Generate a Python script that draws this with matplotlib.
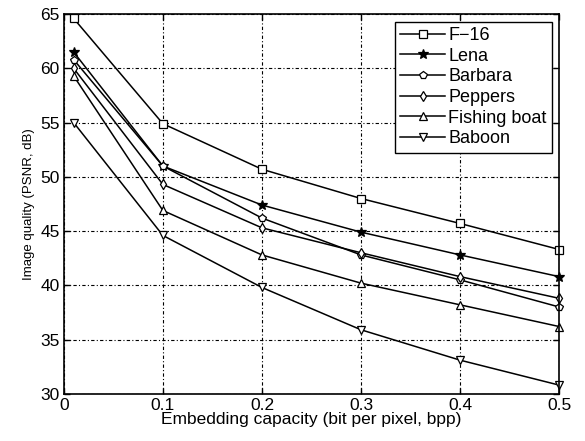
import numpy as np
import matplotlib
matplotlib.use("Agg")
import matplotlib.pyplot as plt

plt.rcParams['font.family'] = ['Liberation Sans', 'DejaVu Sans']

# Capacidad de inserción (bpp)
capacidad = [0.01, 0.1, 0.2, 0.3, 0.4, 0.5]

# PSNR (dB) por imagen
f16 = [64.6, 54.9, 50.7, 48.0, 45.7, 43.3]
lena = [61.5, 51.0, 47.4, 44.9, 42.8, 40.8]
barbara = [60.8, 51.0, 46.2, 42.8, 40.5, 38.0]
peppers = [60.0, 49.3, 45.3, 43.0, 40.8, 38.8]
fishing = [59.3, 46.9, 42.8, 40.2, 38.2, 36.2]
baboon = [55.0, 44.6, 39.8, 35.9, 33.1, 30.8]

nombres = ['F\u221216', 'Lena', 'Barbara', 'Peppers', 'Fishing boat', 'Baboon']
series = [f16, lena, barbara, peppers, fishing, baboon]
marcadores = ['s', '*', 'p', 'd', '^', 'v']

fig = plt.figure(figsize=(5.85, 4.41), dpi=100)
ax = fig.add_axes([0.109, 0.107, 0.847, 0.861])

for nombre, datos, m in zip(nombres, series, marcadores):
    relleno = 'k' if m == '*' else 'white'
    ax.plot(capacidad, datos, color='k', linewidth=1.1, marker=m,
            markersize=5.5 if m != '*' else 7.5, markerfacecolor=relleno,
            markeredgecolor='k', markeredgewidth=0.9, label=nombre, clip_on=False)

ax.set_xlim(0, 0.5)
ax.set_ylim(30, 65)
ax.set_xticks([0, 0.1, 0.2, 0.3, 0.4, 0.5])
ax.set_xticklabels(['0', '0.1', '0.2', '0.3', '0.4', '0.5'])
ax.set_yticks([30, 35, 40, 45, 50, 55, 60, 65])
ax.tick_params(direction='in', labelsize=12.5, length=4, width=1,
               top=True, right=True, pad=3)
ax.grid(True, color='k', linestyle=(0, (3, 2, 1, 2)), linewidth=0.8)
for s in ax.spines.values():
    s.set_linewidth(1.2)

ax.set_xlabel('Embedding capacity (bit per pixel, bpp)', fontsize=12.5, labelpad=-1)
ax.set_ylabel('Image quality (PSNR, dB)', fontsize=9.5, labelpad=4)

leg = ax.legend(loc='upper right', fontsize=13, frameon=True, fancybox=False,
                edgecolor='k', framealpha=1, handlelength=2.5, handletextpad=0.15,
                labelspacing=0.2, borderpad=0.3, borderaxespad=0,
                bbox_to_anchor=(0.985, 0.98))
leg.get_frame().set_linewidth(1.0)

fig.savefig('out.png', dpi=100)
